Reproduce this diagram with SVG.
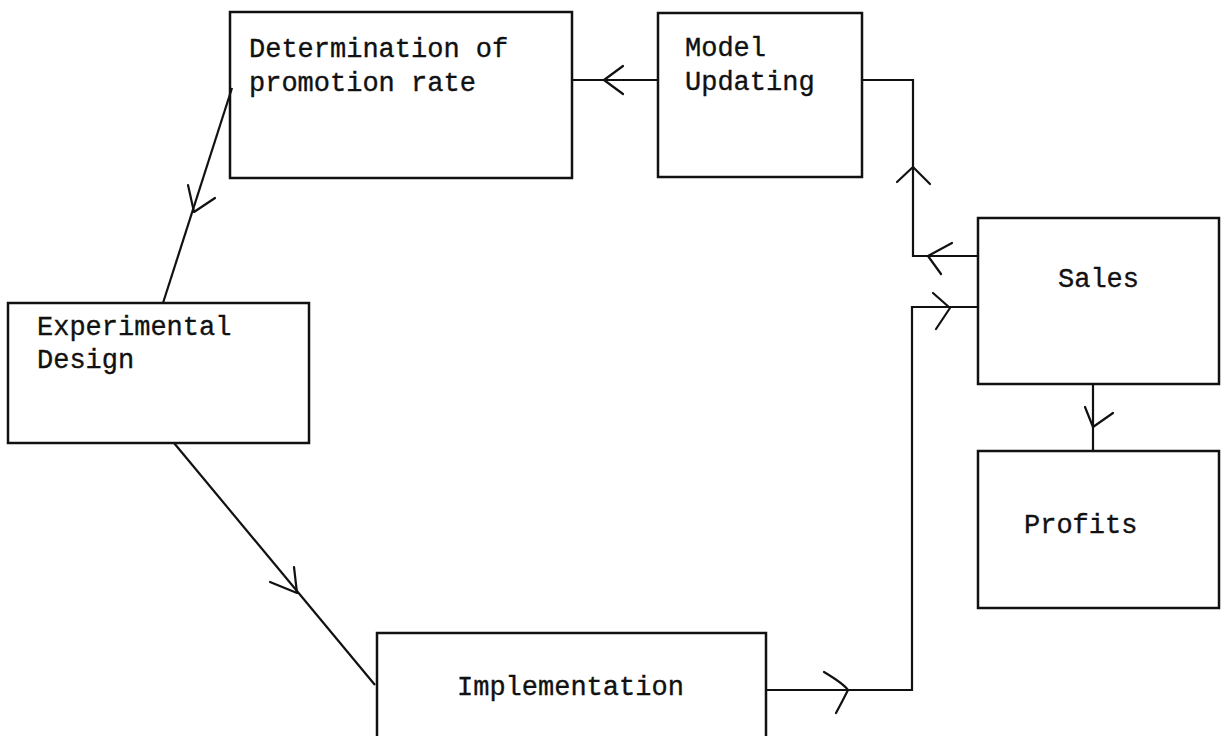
<svg xmlns="http://www.w3.org/2000/svg" width="1228" height="736" viewBox="0 0 1228 736">
<style>
.box{fill:none;stroke:#111;stroke-width:2.5}
.ln{fill:none;stroke:#111;stroke-width:2.2;stroke-linejoin:miter}
.ah{fill:none;stroke:#111;stroke-width:2.2;stroke-linecap:round;stroke-linejoin:round}
.t{font-family:"Liberation Mono","DejaVu Sans Mono",monospace;font-size:27px;fill:#111;stroke:#111;stroke-width:0.35}
</style>
<rect width="1228" height="736" fill="#fff"/>
<g id="determination">
<rect class="box" x="230" y="12" width="342" height="166"/>
<text class="t" x="249" y="57">Determination of</text>
<text class="t" x="249" y="91">promotion rate</text>
</g>
<g id="model-updating">
<rect class="box" x="658" y="13" width="204" height="164"/>
<text class="t" x="685" y="56">Model</text>
<text class="t" x="685" y="90">Updating</text>
</g>
<g id="experimental-design">
<rect class="box" x="8" y="303" width="301" height="140"/>
<text class="t" x="37" y="335">Experimental</text>
<text class="t" x="37" y="368">Design</text>
</g>
<g id="implementation">
<rect class="box" x="377" y="633" width="389" height="110"/>
<text class="t" x="457" y="695">Implementation</text>
</g>
<g id="sales">
<rect class="box" x="978" y="218" width="241" height="166"/>
<text class="t" x="1058" y="287">Sales</text>
</g>
<g id="profits">
<rect class="box" x="978" y="451" width="241" height="157"/>
<text class="t" x="1024" y="533">Profits</text>
</g>
<g id="connectors">
<!-- Model Updating -> Determination -->
<line class="ln" x1="572" y1="80" x2="658" y2="80"/>
<polyline class="ah" points="623,66 604,80 623,94"/>
<!-- Determination -> Experimental Design -->
<line class="ln" x1="232" y1="88" x2="163" y2="303"/>
<polyline class="ah" points="188,185 194,212 215,198"/>
<!-- Experimental Design -> Implementation -->
<line class="ln" x1="174" y1="443" x2="375" y2="685"/>
<polyline class="ah" points="270,582 297,593 294,567"/>
<!-- Implementation -> Sales -->
<polyline class="ln" points="766,690 912,690 912,307 978,307"/>
<path class="ah" d="M824,672 Q844,684 848,690 Q842,702 836,713"/>
<polyline class="ah" points="933,293 950,308 936,329"/>
<!-- Sales -> Model Updating -->
<polyline class="ln" points="978,256 913,256 913,80 862,80"/>
<polyline class="ah" points="952,243 928,256 941,274"/>
<polyline class="ah" points="897,182 913,167 930,184"/>
<!-- Sales -> Profits -->
<line class="ln" x1="1093" y1="384" x2="1093" y2="451"/>
<polyline class="ah" points="1085,407 1093,427 1113,413"/>
</g>
</svg>
